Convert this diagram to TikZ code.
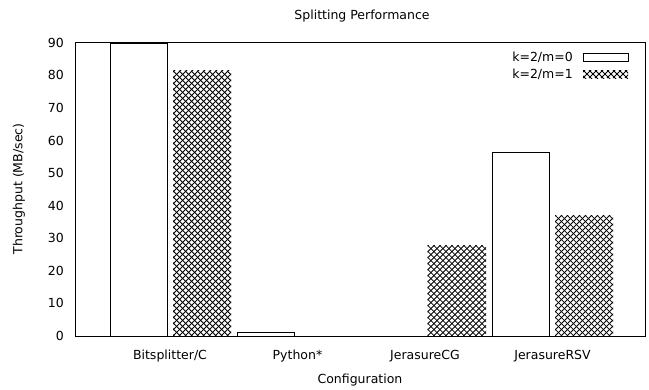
\documentclass[tikz,border=0pt]{standalone}
\usepackage{fontspec}
\setmainfont{DejaVu Sans}
\begin{document}
\begin{tikzpicture}[x=1pt,y=-1pt,
  every node/.style={font=\fontsize{12.5}{14}\selectfont, inner sep=0pt},
  frame/.style={draw=black, line width=0.9pt},
  openbar/.style={draw=black, fill=white, line width=0.8pt},
  hatchline/.style={draw=black, line width=0.8pt},
  ticklabel/.style={anchor=east},
]
% canvas
\useasboundingbox (0,0) rectangle (649,389);
\fill[white] (0,0) rectangle (649,389);

% value v maps to y = 336 - 3.2589 v
\newcommand\valy[1]{336-3.2589*#1}
% cross-hatched bar: left, top, right, bottom
\newcommand\xhatch[4]{%
  \begin{scope}
    \clip (#1,#2) rectangle (#3,#4);
    \foreach \k in {-300,-294,...,66} {
      \draw[hatchline] (#1+\k,#4) -- ++(300,-300);
      \draw[hatchline] (#1+\k,#2) -- ++(300,300);
    }
  \end{scope}}

% bars: Bitsplitter/C
\draw[openbar] (110,336) rectangle (167,{\valy{89.8}});
\xhatch{173}{\valy{81.4}}{231}{336}
% Python*
\draw[openbar] (237,336) rectangle (294.5,{\valy{1.0}});
% JerasureCG
\xhatch{427.5}{\valy{27.9}}{486}{336}
% JerasureRSV
\draw[openbar] (492,336) rectangle (549,{\valy{56.2}});
\xhatch{555}{\valy{37.1}}{613}{336}

% plot frame
\draw[frame] (75,42.7) rectangle (645,336);

% y tick labels
\foreach \v in {0,10,...,90}
  \node[ticklabel] (ytick\v) at (64,{\valy{\v}}) {\v};

% x tick labels
\node (xl0) at (170,356) {Bitsplitter/C};
\node (xl1) at (297.5,356) {Python*};
\node (xl2) at (425,356) {JerasureCG};
\node (xl3) at (552.5,356) {JerasureRSV};

% axis titles and chart title
\node (xtitle) at (360,380) {Configuration};
\node[rotate=90] (ytitle) at (19,189) {Throughput (MB/sec)};
\node (title) at (362,16) {Splitting Performance};

% legend
\node[anchor=east] (leg0) at (573,57) {k=2/m=0};
\node[anchor=east] (leg1) at (573,74) {k=2/m=1};
\draw[openbar] (583,53) rectangle (628,61);
\xhatch{583}{70}{628}{78}
\end{tikzpicture}
\end{document}
